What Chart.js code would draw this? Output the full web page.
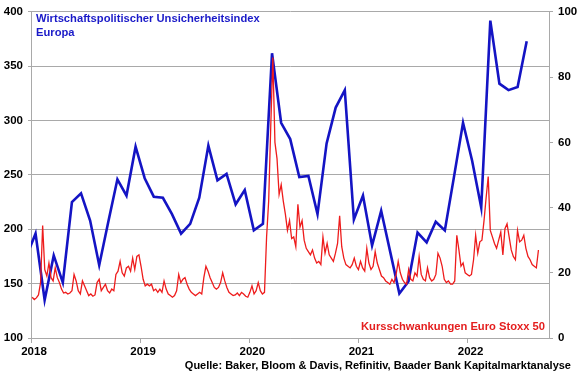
<!DOCTYPE html>
<html>
<head>
<meta charset="utf-8">
<script src="https://cdn.jsdelivr.net/npm/chart.js@4.4.0/dist/chart.umd.min.js"></script>
<style>
body{margin:0;background:#fff;}
#wrap{position:relative;width:580px;height:375px;font-family:'Liberation Sans',Arial,sans-serif;font-weight:bold;}
.note{position:absolute;white-space:nowrap;font-size:11.2px;line-height:14px;}
</style>
</head>
<body>
<div id="wrap">
<canvas id="c" width="580" height="375"></canvas>
<div class="note" style="left:36px;top:11px;color:#1a1ac8">Wirtschaftspolitischer Unsicherheitsindex<br>Europa</div>
<div class="note" style="right:35px;top:319px;color:#e41e1e">Kursschwankungen Euro Stoxx 50</div>
<div class="note" style="right:9px;top:358px;color:#000;font-size:11px">Quelle: Baker, Bloom &amp; Davis, Refinitiv, Baader Bank Kapitalmarktanalyse</div>
</div>
<script>
// EPU Europe (monthly, left axis) vs. Euro Stoxx 50 volatility (weekly readings, right axis)

const xTicks = [2018, 2019, 2020, 2021, 2022];
const leftTicks = [100, 150, 200, 250, 300, 350, 400];
const rightTicks = [0, 20, 40, 60, 80, 100];

// monthly, first value = Dec 2017
const blueStart = [2017, 12];
const blueValues = [175,
  196,135,176,151,225,233,208,167,207,246,231,276,
  247,230,229,214,196,205,229,277,245,251,223,236,
  199,205,362,298,283,248,249,214,279,312,328,209,
  231,185,217,179,141,152,197,188,207,199,248,298,
  263,220,392,334,328,331,373];

// weekly (Fridays), first value = 5 Jan 2018
const redStart = [2018, 1, 5];
const red2018 = [12.5,11.8,12.3,13.2, 17,34.5,21,19, 23,18.5,17.5,21.5,18.5, 17,15,13.8,14,
  13.5,13.8,14.5,19.5, 17.5,14.5,13.5,17.5,16, 14.5,13,13.5,12.8, 13.2,17,18,14.5,15.5,
  16.5,14.5,13.8,15, 14.5,19.5,20.5,23.5, 20,19,21.5,22,20.5, 24.5,21,25,25.5];
const red2019 = [22,18,16,16.5, 16,16.5,14.5,15, 14,15,14,17.5,15, 13.5,13,12.5,13,
  14.5,19.5,17,18,18.5, 16.5,15,14,13.5, 13,13.5,14,13.5, 18.5,22,20.5,18.5,17,
  15.5,15,15.5,17, 20,17.5,15.5,14, 13.5,13,13.2,13.8,13, 14,13.5,12.8,12.5];
const red2020 = [14,16,13.5,14.5,17, 14.5,13.5,14,31, 42,65,86,60, 55,44,47,42,
  38,33,36,30.5,31, 28,41,34,36, 30,27.5,26.5,25.5,27, 24.5,23,23.5,22.5,
  31,26,29,25.5, 24.5,23.5,26,29,37.5, 28,24.5,22.5,22, 21.5,22.5,24.5,22];
const red2021 = [21,23.5,21.5,20.5,27.5, 23,21,22,26.5, 23,21,19,18.5, 17.5,17,16.5,18,17,
  19.5,23.5,20,18, 17,16.5,21,18, 17.5,20,19,25,19.5, 18,17.5,21.5,18.5,
  17.5,18,19.5,26, 24.5,22,18,17,17.5, 16.5,16.5,17.5,31.5, 27,22,23,20,19.5];
const red2022 = [19,19.5,24,31.5, 26,29.5,30,36, 43,49.5,33,31, 29,27.5,30,32.5,25.5,
  33.5,35,31,27, 25,24,33,29.5, 30,31.5,27.5,25,24, 22.5,22,21.5,27];
const redValues = [].concat(red2018, red2019, red2020, red2021, red2022);

function yearFrac(ms){ const y = new Date(ms).getUTCFullYear(); const a = Date.UTC(y,0,1), b = Date.UTC(y+1,0,1); return y + (ms-a)/(b-a); }

const bluePts = blueValues.map((v,i)=>{ const m = blueStart[1]-1+i; return { x: blueStart[0] + (m+0.5)/12, y: v }; });
const t0 = Date.UTC(redStart[0], redStart[1]-1, redStart[2]);
const redPts = redValues.map((v,i)=>({ x: yearFrac(t0 + i*7*864e5), y: v }));

const gridCol = '#a9a9a9';
const tickFont = { family: "'Liberation Sans', Arial, sans-serif", size: 11.5, weight: 'bold' };
const setTicks = arr => s => { s.ticks = arr.map(v=>({ value: v })); };

new Chart(document.getElementById('c'), {
  type: 'line',
  data: { datasets: [
    { label: 'Kursschwankungen Euro Stoxx 50', data: redPts, yAxisID: 'y2', borderColor: '#ee1c1c', borderWidth: 1.3, pointRadius: 0, tension: 0, order: 0 },
    { label: 'Wirtschaftspolitischer Unsicherheitsindex Europa', data: bluePts, yAxisID: 'y', borderColor: '#1414c4', borderWidth: 2.6, pointRadius: 0, tension: 0, order: 1 }
  ]},
  options: {
    responsive: false, animation: false,
    layout: { padding: { top: 10 } },
    plugins: { legend: { display: false }, tooltip: { enabled: false } },
    scales: {
      x: { type: 'linear', min: 2018, max: 2022.746, afterBuildTicks: setTicks(xTicks),
        ticks: { callback: v => String(v), font: tickFont, color: '#000', maxRotation: 0, padding: 2, labelOffset: 3 },
        grid: { drawOnChartArea: false, tickLength: 5, color: gridCol }, border: { color: gridCol },
        afterFit: s => { s.height = 37; } },
      y: { position: 'left', min: 100, max: 400, afterBuildTicks: setTicks(leftTicks),
        ticks: { font: tickFont, color: '#000', padding: 5 },
        grid: { color: gridCol, tickLength: 3 }, border: { color: gridCol },
        afterFit: s => { s.width = 31; } },
      y2: { position: 'right', min: 0, max: 100, afterBuildTicks: setTicks(rightTicks),
        ticks: { font: tickFont, color: '#000', padding: 5 },
        grid: { drawOnChartArea: false, tickLength: 4, color: gridCol }, border: { color: gridCol },
        afterFit: s => { s.width = 31; } }
    }
  }
});
</script>
</body>
</html>
